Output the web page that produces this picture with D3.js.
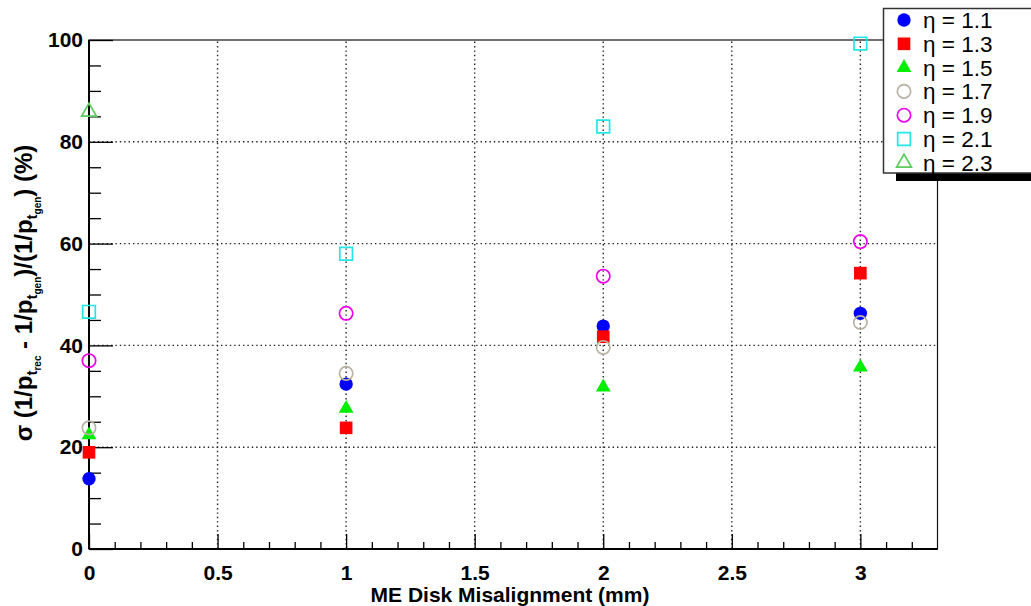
<!DOCTYPE html>
<html>
<head>
<meta charset="utf-8">
<script src="https://cdn.jsdelivr.net/npm/d3@7"></script>
<style>
  body { margin: 0; background: #fff; }
  svg { display: block; font-family: "Liberation Sans", Arial, Helvetica, sans-serif; }
</style>
</head>
<body>
<svg width="1031" height="606"></svg>
<script>
var misalign = [0, 1, 2, 3];
var xTicks = [0, 0.5, 1, 1.5, 2, 2.5, 3];
var yTicks = [0, 20, 40, 60, 80, 100];

var eta11 = [13.8, 32.4, 43.8, 46.3];
var eta13 = [19.0, 23.8, 41.7, 54.2];
var eta15 = [22.4, 27.6, 31.8, 35.7];
var eta17 = [23.8, 34.5, 39.6, 44.5];
var eta19 = [37.0, 46.3, 53.6, 60.4];
var eta21 = [46.6, 58.0, 83.0, 99.3];
var eta23 = [85.9];

var series = [
  {name: "η = 1.1", values: eta11, shape: d3.symbolCircle, fill: "#0000ff", stroke: "none"},
  {name: "η = 1.3", values: eta13, shape: d3.symbolSquare, fill: "#ff0000", stroke: "none"},
  {name: "η = 1.5", values: eta15, shape: d3.symbolTriangle, fill: "#00ee00", stroke: "none"},
  {name: "η = 1.7", values: eta17, shape: d3.symbolCircle, fill: "none", stroke: "#b9b2a4"},
  {name: "η = 1.9", values: eta19, shape: d3.symbolCircle, fill: "none", stroke: "#ee00ee"},
  {name: "η = 2.1", values: eta21, shape: d3.symbolSquare, fill: "none", stroke: "#22e6e6"},
  {name: "η = 2.3", values: eta23, shape: d3.symbolTriangle, fill: "none", stroke: "#5ccc5c"}
];

function sizeOf(shape) {
  if (shape === d3.symbolCircle) return 140;
  if (shape === d3.symbolSquare) return 160;
  return 95;
}

var svg = d3.select("svg"),
    plotLeft = 89, plotRight = 937.5, plotTop = 40, plotBottom = 549;

var x = d3.scaleLinear().domain([0, 3.3]).range([plotLeft, plotRight]);
var y = d3.scaleLinear().domain([0, 100]).range([plotBottom, plotTop]);

// dotted grid
var grid = svg.append("g")
    .attr("stroke", "#222")
    .attr("stroke-width", 1.4)
    .attr("stroke-dasharray", "1.4,3");

grid.selectAll("line.gx")
  .data(xTicks.filter(function(d) { return d > 0; }))
  .enter().append("line")
    .attr("x1", function(d) { return x(d); })
    .attr("x2", function(d) { return x(d); })
    .attr("y1", plotBottom)
    .attr("y2", plotTop);

grid.selectAll("line.gy")
  .data(yTicks.filter(function(d) { return d > 0 && d < 100; }))
  .enter().append("line")
    .attr("x1", plotLeft)
    .attr("x2", plotRight)
    .attr("y1", function(d) { return y(d); })
    .attr("y2", function(d) { return y(d); });

// frame
svg.append("rect")
    .attr("x", plotLeft)
    .attr("y", plotTop)
    .attr("width", plotRight - plotLeft)
    .attr("height", plotBottom - plotTop)
    .attr("fill", "none")
    .attr("stroke", "#111")
    .attr("stroke-width", 1.2);

// axes, ticks drawn inward
var xAxis = svg.append("g")
    .attr("transform", "translate(0," + plotBottom + ")")
    .call(d3.axisBottom(x).tickValues(d3.range(0, 33).map(function(i) { return i / 10; })).tickSize(-7).tickFormat(""));

xAxis.select(".domain").attr("stroke-width", 2).attr("d", "M" + plotLeft + ",0H" + plotRight);
xAxis.selectAll(".tick line")
    .attr("stroke-width", 1.3)
    .attr("y2", function(d) { return Math.abs(d * 2 - Math.round(d * 2)) < 1e-6 ? -15 : -7; });

svg.append("g")
    .attr("transform", "translate(0," + plotBottom + ")")
    .call(d3.axisBottom(x).tickValues(xTicks).tickSize(0).tickPadding(16).tickFormat(function(d) { return d; }))
    .call(function(g) { g.select(".domain").remove(); })
    .selectAll("text")
    .attr("font-size", 21)
    .attr("font-weight", "bold")
    .attr("fill", "#000")
    .attr("font-family", "Liberation Sans, Arial, sans-serif");

var yAxis = svg.append("g")
    .attr("transform", "translate(" + plotLeft + ",0)")
    .call(d3.axisLeft(y).tickValues(d3.range(0, 101, 5)).tickSize(-12).tickFormat(""));

yAxis.select(".domain").attr("stroke-width", 2).attr("d", "M0," + plotBottom + "V" + plotTop);
yAxis.selectAll(".tick line")
    .attr("stroke-width", 1.3)
    .attr("x2", function(d) { return d % 20 === 0 ? 24 : 12; });

svg.append("g")
    .attr("transform", "translate(" + (plotLeft - 3) + ",0)")
    .call(d3.axisLeft(y).tickValues(yTicks).tickSize(0).tickPadding(3))
    .call(function(g) { g.select(".domain").remove(); })
    .selectAll("text")
    .attr("font-size", 21)
    .attr("font-weight", "bold")
    .attr("fill", "#000")
    .attr("font-family", "Liberation Sans, Arial, sans-serif");

// points
series.forEach(function(s) {
  svg.append("g").selectAll("path")
    .data(s.values)
    .enter().append("path")
      .attr("transform", function(d, i) { return "translate(" + x(misalign[i]) + "," + y(d) + ")"; })
      .attr("d", d3.symbol().type(s.shape).size(sizeOf(s.shape)))
      .attr("fill", s.fill)
      .attr("stroke", s.stroke)
      .attr("stroke-width", s.stroke === "none" ? 0 : 1.7);
});

// axis titles
svg.append("text")
    .attr("x", 510)
    .attr("y", 602)
    .attr("text-anchor", "middle")
    .attr("font-size", 21)
    .attr("font-weight", "bold")
    .text("ME Disk Misalignment (mm)");

var yl = svg.append("text")
    .attr("transform", "translate(32,293) rotate(-90)")
    .attr("text-anchor", "middle")
    .attr("font-size", 24)
    .attr("font-weight", "bold");

var parts = [
  ["σ (1/p", 24, 0], ["t", 15, 5], ["rec", 10, 4],
  [" - 1/p", 24, -9], ["t", 15, 5], ["gen", 10, 4],
  [")/(1/p", 24, -9], ["t", 15, 5], ["gen", 10, 4],
  [") (%)", 24, -9]
];
parts.forEach(function(p) {
  yl.append("tspan")
    .attr("font-size", p[1])
    .attr("dy", p[2])
    .text(p[0]);
});

// legend
var lg = svg.append("g");
lg.append("rect")
    .attr("x", 896)
    .attr("y", 173)
    .attr("width", 140)
    .attr("height", 8)
    .attr("fill", "#000");
lg.append("rect")
    .attr("x", 883.5)
    .attr("y", 8.5)
    .attr("width", 160)
    .attr("height", 164.5)
    .attr("fill", "#fff")
    .attr("stroke", "#333")
    .attr("stroke-width", 1.5);

var entry = lg.selectAll("g.entry")
  .data(series)
  .enter().append("g")
    .attr("transform", function(d, i) { return "translate(904," + (20 + i * 23.8) + ")"; });

entry.append("path")
    .attr("d", function(d) { return d3.symbol().type(d.shape).size(sizeOf(d.shape))(); })
    .attr("fill", function(d) { return d.fill; })
    .attr("stroke", function(d) { return d.stroke; })
    .attr("stroke-width", function(d) { return d.stroke === "none" ? 0 : 1.7; });

entry.append("text")
    .attr("x", 19)
    .attr("y", 8)
    .attr("font-size", 22.5)
    .text(function(d) { return d.name; });
</script>
</body>
</html>
